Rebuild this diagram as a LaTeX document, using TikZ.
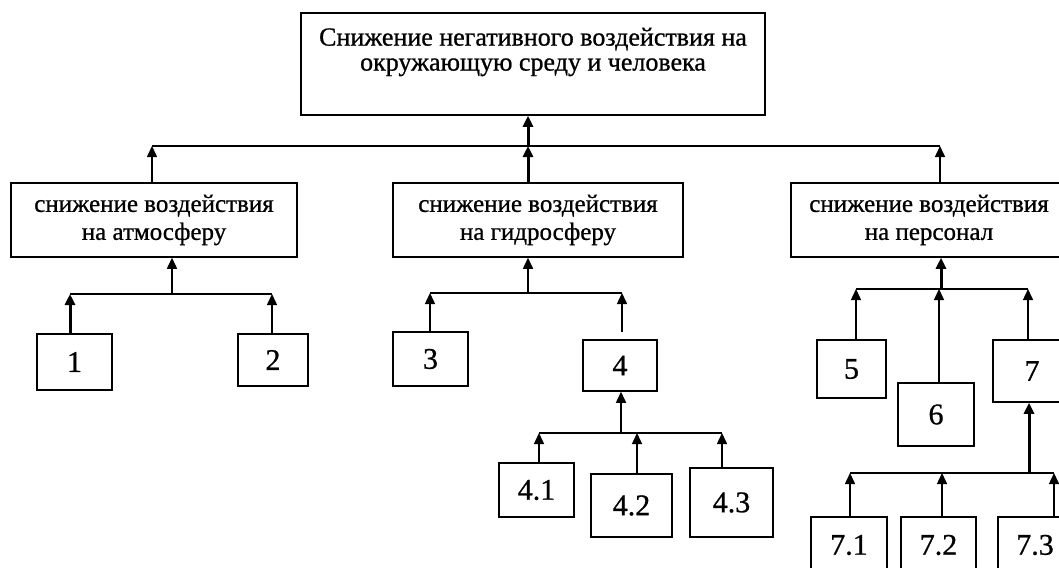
\documentclass[tikz,border=0pt]{standalone}
\usepackage{fontspec}
\setmainfont[FakeBold=0.8]{Liberation Serif}
\usetikzlibrary{arrows.meta}
\begin{document}
\begin{tikzpicture}[x=1pt,y=-1pt,
  box/.style={draw, line width=1.5pt, inner sep=0pt},
  ln/.style={line width=1.5pt},
  arr/.style={line width=1.5pt, -{Triangle[length=11pt,width=10pt]}},
  thk/.style={line width=3pt},
  txt/.style={font=\fontsize{25}{28}\selectfont, align=center},
  num/.style={font=\fontsize{30}{32}\selectfont}]
\useasboundingbox (0,0) rectangle (1059,567);
\clip (0,0) rectangle (1059,567);

% top box
\node[box, minimum width=464, minimum height=102] (top) at (533,64) {};
\node[align=center, font=\fontsize{26}{25}\selectfont] (toptext) at (533,52)
  {Снижение негативного воздействия на\\окружающую среду и человека};

% level 1
\node[box, txt, minimum width=286, minimum height=74] (L) at (154,220) {снижение воздействия\\на атмосферу};
\node[box, txt, minimum width=290, minimum height=74] (M) at (538,220) {снижение воздействия\\на гидросферу};
\node[box, txt, minimum width=276, minimum height=74] (R) at (929,220) {снижение воздействия\\на персонал};

% leaves
\node[box, num, minimum width=75, minimum height=56] (n1) at (74.5,362) {1};
\node[box, num, minimum width=70, minimum height=52] (n2) at (273,360) {2};
\node[box, num, minimum width=75, minimum height=54] (n3) at (430.5,359) {3};
\node[box, num, minimum width=74, minimum height=51] (n4) at (620,365.5) {4};
\node[box, num, minimum width=75, minimum height=54] (n41) at (536.5,490) {4.1};
\node[box, num, minimum width=81, minimum height=63] (n42) at (631.5,505.5) {4.2};
\node[box, num, minimum width=83, minimum height=69] (n43) at (731.5,502.5) {4.3};
\node[box, num, minimum width=69, minimum height=58] (n5) at (851.5,369) {5};
\node[box, num, minimum width=76, minimum height=63] (n6) at (936,414.5) {6};
\node[box, num, minimum width=78, minimum height=62] (n7) at (1032,371) {7};
\node[box, num, minimum width=76, minimum height=56] (n71) at (849,545) {7.1};
\node[box, num, minimum width=75, minimum height=56] (n72) at (938.5,545) {7.2};
\node[box, num, minimum width=74, minimum height=56] (n73) at (1035,545) {7.3};

% top level connectors
\coordinate (tL) at (152,146);
\coordinate (tM) at (528,146);
\coordinate (tR) at (940,146);
\draw[ln] (tL) -- (tR);
\draw[arr] (L.north -| tL) -- (tL);
\draw[arr, thk] (M.north -| tM) -- (tM);
\draw[arr, thk] (tM) -- (top.south -| tM);
\draw[arr] (R.north -| tR) -- (tR);

% atmosphere
\coordinate (a1) at (70,294);
\coordinate (aM) at (172,294);
\coordinate (a2) at (272,294);
\draw[ln] (a1) -- (a2);
\draw[arr] (aM) -- (L.south -| aM);
\draw[arr, thk] (n1.north -| a1) -- (a1);
\draw[arr] (n2.north -| a2) -- (a2);

% hydrosphere
\coordinate (b3) at (430,293);
\coordinate (bM) at (528,293);
\coordinate (b4) at (622,293);
\draw[ln] (b3) -- (b4);
\draw[arr] (bM) -- (M.south -| bM);
\draw[arr] (n3.north -| b3) -- (b3);
\draw[arr, shorten <=7pt] (n4.north -| b4) -- (b4);

% sub of 4
\coordinate (c1) at (539,433);
\coordinate (cM) at (621,433);
\coordinate (c2) at (637,433);
\coordinate (c3) at (722,433);
\draw[ln] (c1) -- (c3);
\draw[arr] (cM) -- (n4.south -| cM);
\draw[arr] (n41.north -| c1) -- (c1);
\draw[arr] (n42.north -| c2) -- (c2);
\draw[arr] (n43.north -| c3) -- (c3);

% personnel
\coordinate (d5) at (856,289);
\coordinate (dM) at (941,289);
\coordinate (d6) at (939,289);
\coordinate (d7) at (1028,289);
\draw[ln] (d5) -- (d7);
\draw[arr, thk] (dM) -- (R.south -| dM);
\draw[arr] (n5.north -| d5) -- (d5);
\draw[arr] (n6.north -| d6) -- (d6);
\draw[arr] (n7.north -| d7) -- (d7);

% sub of 7
\coordinate (e1) at (850,473);
\coordinate (e2) at (942,473);
\coordinate (eM) at (1029,473);
\coordinate (e3) at (1054,473);
\draw[ln] (e1) -- (e3);
\draw[arr, thk] (eM) -- (n7.south -| eM);
\draw[arr] (n71.north -| e1) -- (e1);
\draw[arr] (n72.north -| e2) -- (e2);
\draw[arr] (n73.north -| e3) -- (e3);
\end{tikzpicture}
\end{document}
